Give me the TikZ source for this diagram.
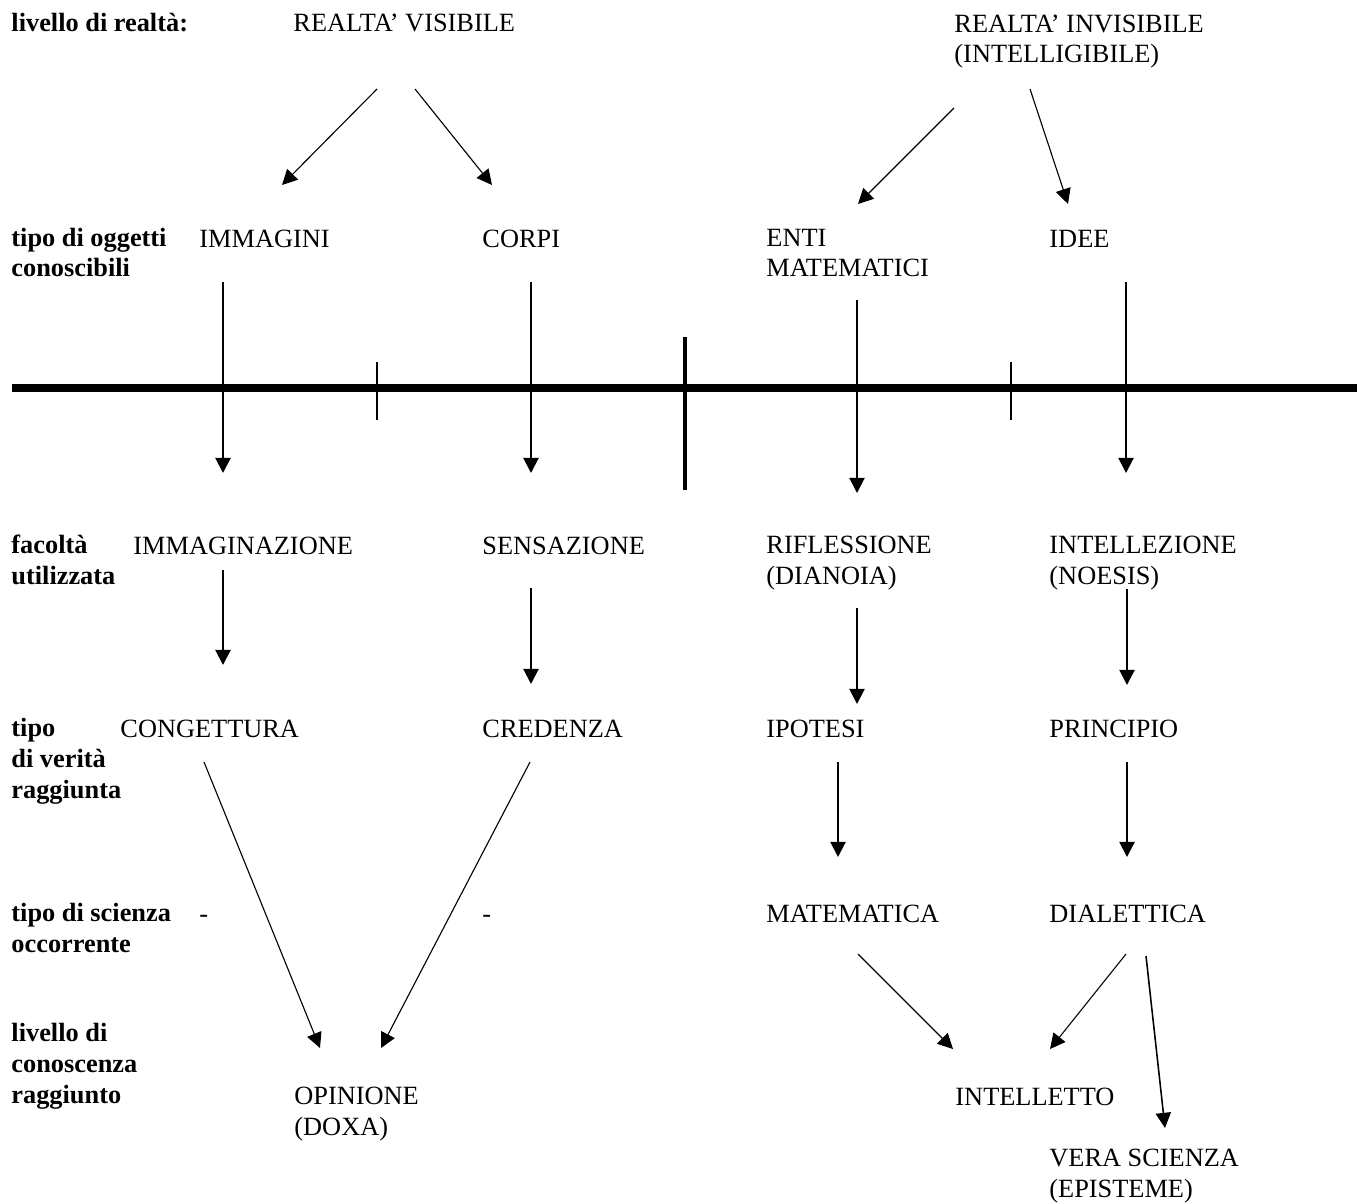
\documentclass[tikz,border=0pt]{standalone}
\usepackage{fontspec}
\setmainfont{Liberation Serif}
\usepackage{tikz}
\usetikzlibrary{arrows.meta}

\begin{document}
\begin{tikzpicture}[x=0.448pt, y=-0.448pt,
            every node/.style={inner sep=0pt, anchor=base west, align=left,
                font=\fontsize{11.8}{13.7}\selectfont},
            >={Triangle[length=6.8pt, width=6.8pt]}]
            \useasboundingbox (0, 0) rectangle (1365, 1202);

            \node (lab_realta) at (11, 32) {\textbf{livello di realtà:}};
            \node (lab_oggetti) at (11, 277) {\textbf{tipo di oggetti}\\\textbf{conoscibili}};
            \node (lab_facolta) at (11, 584) {\textbf{facoltà}\\\textbf{utilizzata}};
            \node (lab_verita) at (11, 798) {\textbf{tipo}\\\textbf{di verità}\\\textbf{raggiunta}};
            \node (lab_scienza) at (11, 952) {\textbf{tipo di scienza}\\\textbf{occorrente}};
            \node (lab_conoscenza) at (11, 1103) {\textbf{livello di}\\\textbf{conoscenza}\\\textbf{raggiunto}};

            \node (visibile) at (293, 32) {REALTA’ VISIBILE};
            \node (invisibile) at (954, 63) {REALTA’ INVISIBILE\\(INTELLIGIBILE)};
            \node (immagini) at (199, 247) {IMMAGINI};
            \node (corpi) at (482, 247) {CORPI};
            \node (enti) at (766, 277) {ENTI\\MATEMATICI};
            \node (idee) at (1049, 247) {IDEE};
            \node (immaginazione) at (133, 554) {IMMAGINAZIONE};
            \node (sensazione) at (482, 554) {SENSAZIONE};
            \node (riflessione) at (766, 584) {RIFLESSIONE\\(DIANOIA)};
            \node (intellezione) at (1049, 584) {INTELLEZIONE\\(NOESIS)};
            \node (congettura) at (120, 737) {CONGETTURA};
            \node (credenza) at (482, 737) {CREDENZA};
            \node (ipotesi) at (766, 737) {IPOTESI};
            \node (principio) at (1049, 737) {PRINCIPIO};
            \node (dash_l) at (199, 922) {-};
            \node (dash_r) at (482, 922) {-};
            \node (matematica) at (766, 922) {MATEMATICA};
            \node (dialettica) at (1049, 922) {DIALETTICA};
            \node (opinione) at (294, 1135) {OPINIONE\\(DOXA)};
            \node (intelletto) at (955, 1105) {INTELLETTO};
            \node (vera) at (1049, 1197) {VERA SCIENZA\\(EPISTEME)};

            \coordinate (visibile_l) at (377, 89);
            \coordinate (visibile_r) at (415, 89);
            \coordinate (invisibile_l) at (954, 108);
            \coordinate (invisibile_r) at (1030, 89);
            \coordinate (immagini_in) at (282, 185);
            \coordinate (immagini_out) at (223, 282);
            \coordinate (corpi_in) at (492, 185);
            \coordinate (corpi_out) at (531, 282);
            \coordinate (enti_in) at (858, 204);
            \coordinate (enti_out) at (857, 300);
            \coordinate (idee_in) at (1068, 204);
            \coordinate (idee_out) at (1126, 282);
            \coordinate (immaginazione_in) at (223, 473);
            \coordinate (immaginazione_out) at (223, 570);
            \coordinate (sensazione_in) at (531, 473);
            \coordinate (sensazione_out) at (531, 588);
            \coordinate (riflessione_in) at (857, 493);
            \coordinate (riflessione_out) at (857, 608);
            \coordinate (intellezione_in) at (1126, 473);
            \coordinate (intellezione_out) at (1127, 589);
            \coordinate (congettura_in) at (223, 665);
            \coordinate (congettura_out) at (204, 762);
            \coordinate (credenza_in) at (531, 684);
            \coordinate (credenza_out) at (530, 762);
            \coordinate (ipotesi_in) at (857, 704);
            \coordinate (ipotesi_out) at (838, 762);
            \coordinate (principio_in) at (1127, 685);
            \coordinate (principio_out) at (1127, 762);
            \coordinate (matematica_in) at (838, 857);
            \coordinate (matematica_out) at (858, 954);
            \coordinate (dialettica_in) at (1127, 857);
            \coordinate (dialettica_l) at (1126, 954);
            \coordinate (dialettica_r) at (1146, 956);
            \coordinate (opinione_l) at (320, 1048);
            \coordinate (opinione_r) at (381, 1048);
            \coordinate (intelletto_l) at (953, 1049);
            \coordinate (intelletto_r) at (1050, 1049);
            \coordinate (vera_in) at (1165, 1128);

            \draw [line width=3.6pt] (12, 388) -- (1357, 388);
            \draw [line width=0.7pt] (377, 362) -- (377, 420);
            \draw [line width=0.7pt] (1011, 362) -- (1011, 420);
            \draw [line width=2pt] (685, 337) -- (685, 490);

            \draw [->, line width=0.5pt] (visibile_l) -- (immagini_in);
            \draw [->, line width=0.5pt] (visibile_r) -- (corpi_in);
            \draw [->, line width=0.5pt] (invisibile_l) -- (enti_in);
            \draw [->, line width=0.5pt] (invisibile_r) -- (idee_in);
            \draw [->, line width=0.9pt] (immagini_out) -- (immaginazione_in);
            \draw [->, line width=0.9pt] (corpi_out) -- (sensazione_in);
            \draw [->, line width=0.9pt] (enti_out) -- (riflessione_in);
            \draw [->, line width=0.9pt] (idee_out) -- (intellezione_in);
            \draw [->, line width=0.9pt] (immaginazione_out) -- (congettura_in);
            \draw [->, line width=0.9pt] (sensazione_out) -- (credenza_in);
            \draw [->, line width=0.9pt] (riflessione_out) -- (ipotesi_in);
            \draw [->, line width=0.9pt] (intellezione_out) -- (principio_in);
            \draw [->, line width=0.9pt] (ipotesi_out) -- (matematica_in);
            \draw [->, line width=0.9pt] (principio_out) -- (dialettica_in);
            \draw [->, line width=0.5pt] (congettura_out) -- (opinione_l);
            \draw [->, line width=0.5pt] (credenza_out) -- (opinione_r);
            \draw [->, line width=0.5pt] (matematica_out) -- (intelletto_l);
            \draw [->, line width=0.5pt] (dialettica_l) -- (intelletto_r);
            \draw [->, line width=0.7pt] (dialettica_r) -- (vera_in);
        \end{tikzpicture}
\end{document}
